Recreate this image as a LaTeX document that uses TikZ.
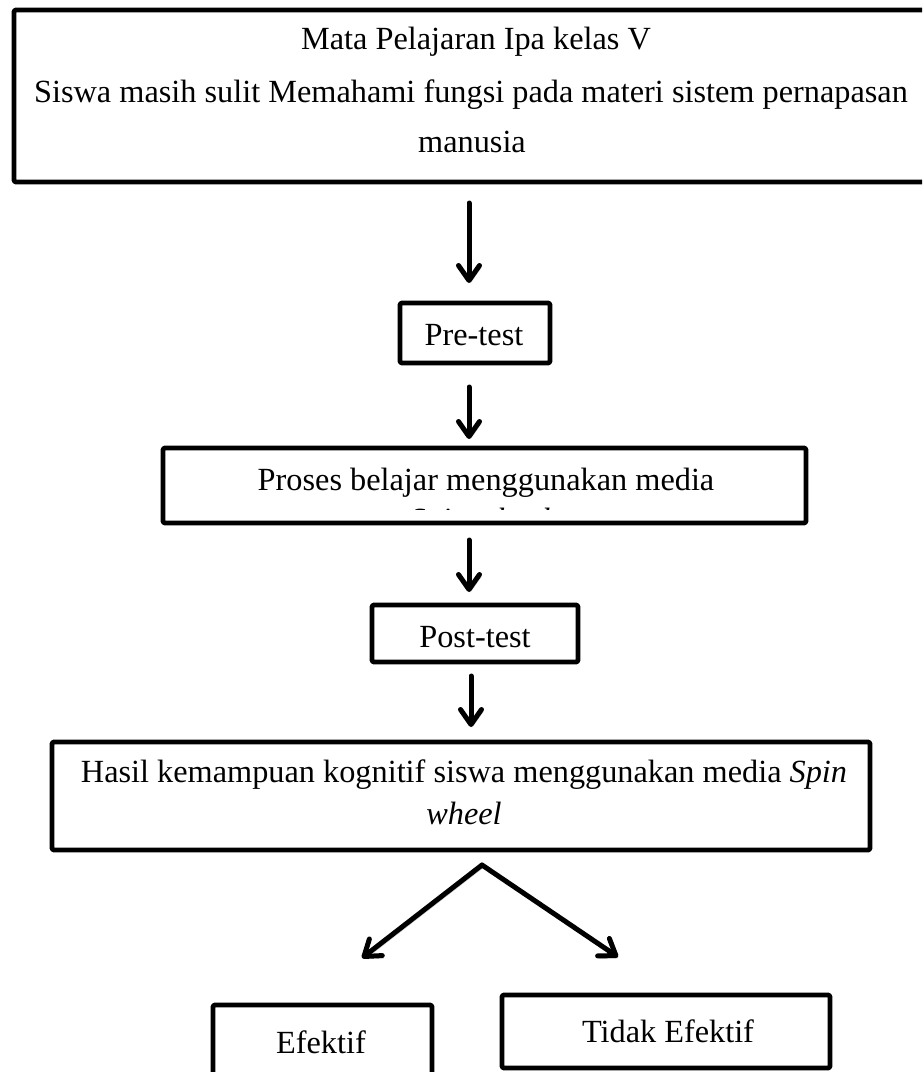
\documentclass[tikz,border=0pt]{standalone}
\usepackage{fontspec}
\setmainfont{Liberation Serif}
\usetikzlibrary{arrows.meta}
\begin{document}
\begin{tikzpicture}[x=1pt,y=-1pt,
  box/.style={draw, line width=4.8pt, line join=round, rounded corners=1.5pt, inner sep=0pt, outer sep=0pt},
  lbl/.style={font=\fontsize{32.3}{40}\selectfont, inner sep=0pt, anchor=base},
  arr/.style={line width=5pt, line cap=round, line join=round,
    -{Straight Barb[length=15pt,width=21pt,round]},
    preaction={draw=black!20, transform canvas={shift={(1.5pt,-2.5pt)}}}}]
\useasboundingbox (0,0) rectangle (922,1072);
\fill[white] (0,0) rectangle (922,1072);
\clip (0,0) rectangle (922,1072);
% boxes
\node[box, minimum width=926, minimum height=172] (top) at (477,96) {};
\node[box, minimum width=150, minimum height=60] (pre) at (475,333) {};
\node[box, minimum width=643, minimum height=75] (proses) at (484.5,485.5) {};
\node[box, minimum width=206, minimum height=57] (post) at (475,633.5) {};
\node[box, minimum width=818, minimum height=108] (hasil) at (461,796) {};
\node[box, minimum width=219, minimum height=85] (ef) at (322.5,1047.5) {};
\node[box, minimum width=328, minimum height=73] (tef) at (666,1031.5) {};
% texts
\node[lbl] (t1) at (476,49) {Mata Pelajaran Ipa kelas V};
\node[lbl] (t2) at (471,102) {Siswa masih sulit Memahami fungsi pada materi sistem pernapasan};
\node[lbl] (t3) at (472,152) {manusia};
\node[lbl] (tpre) at (474,345) {Pre-test};
\node[lbl] (tpro) at (486,490) {Proses belajar menggunakan media};
\begin{scope}
\clip (170,500) rectangle (800,509.8);
\node[lbl] (tpro2) at (480,530) {\itshape Spin wheel};
\end{scope}
\node[lbl] (tpost) at (475,647) {Post-test};
\node[lbl] (th1) at (464,782) {Hasil kemampuan kognitif siswa menggunakan media \textit{Spin}};
\node[lbl] (th2) at (464,824) {\itshape wheel};
\node[lbl] (tef) at (321,1053) {Efektif};
\node[lbl] (ttef) at (668,1042) {Tidak Efektif};
% connectors
\coordinate (ax) at (469,0);
\coordinate (bx) at (471,0);
\draw[arr, shorten <=21pt, shorten >=20pt] (top.south -| ax) -- (pre.north -| ax);
\draw[arr, shorten <=24pt, shorten >=9pt] (pre.south -| ax) -- (proses.north -| ax);
\draw[arr, shorten <=17pt, shorten >=13pt] (proses.south -| ax) -- (post.north -| ax);
\draw[arr, shorten <=14pt, shorten >=15pt] (post.south -| bx) -- (hasil.north -| bx);
\coordinate (apex) at (482,865);
\coordinate (tipL) at (362,958);
\coordinate (tipR) at (618,957);
\draw[arr] (apex) -- (tipL);
\draw[arr] (apex) -- (tipR);
\end{tikzpicture}
\end{document}
